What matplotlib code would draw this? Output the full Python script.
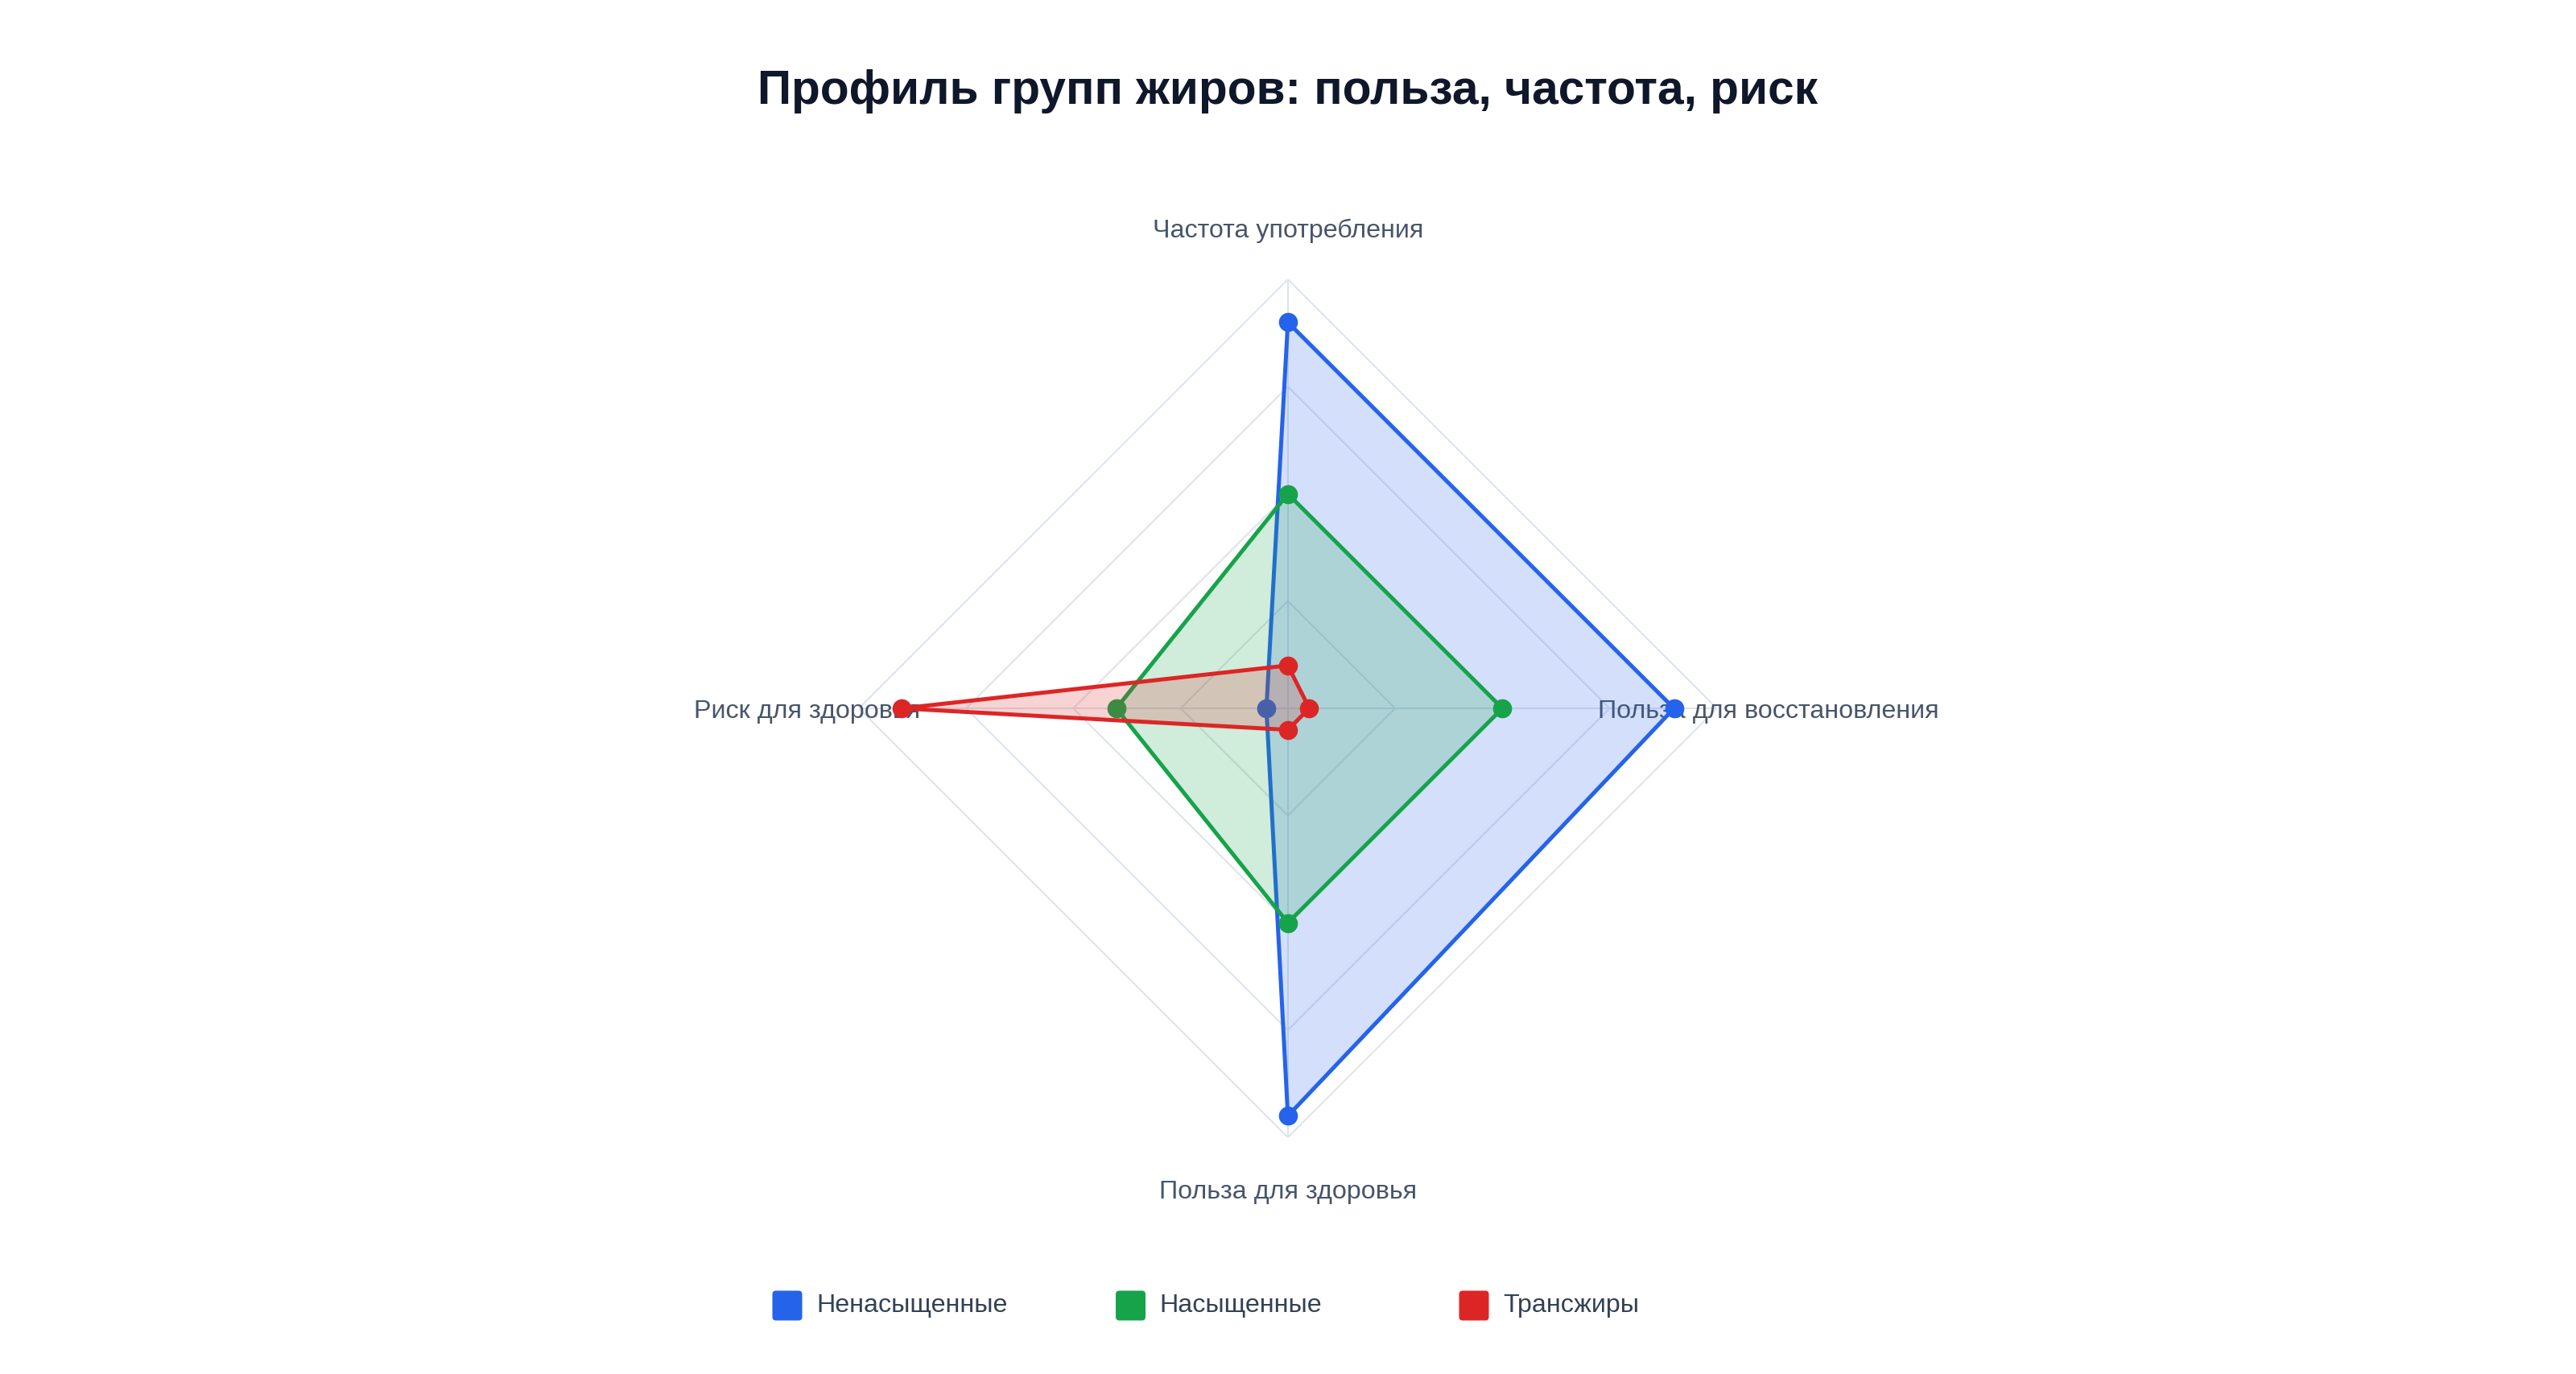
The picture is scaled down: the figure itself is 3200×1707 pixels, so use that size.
import numpy as np
import matplotlib
matplotlib.use("Agg")
import matplotlib.pyplot as plt
from matplotlib.patches import FancyBboxPatch
from matplotlib.transforms import offset_copy

plt.rcParams['font.family'] = ['Liberation Sans', 'DejaVu Sans']

# ---- data ----
title = "Профиль групп жиров: польза, частота, риск"
categories = ["Частота употребления", "Польза для восстановления",
              "Польза для здоровья", "Риск для здоровья"]
series_names = ["Ненасыщенные", "Насыщенные", "Трансжиры"]
unsaturated = [9, 9, 9.5, 0.5]
saturated = [5, 5, 5, 4]
trans_fats = [1, 0.5, 0.5, 9]
radial_ticks = [2.5, 5, 7.5, 10]
r_max = 10

colors = ["#2563eb", "#16a34a", "#dc2626"]
series = [unsaturated, saturated, trans_fats]

DPI = 200
fig = plt.figure(figsize=(16, 8.535), dpi=DPI)
fig.patch.set_facecolor("white")

ax = fig.add_axes([0.3334, 0.1722, 0.3331, 0.6245], projection="polar")
ax.set_theta_zero_location("N")
ax.set_theta_direction(-1)
ax.set_ylim(0, r_max)
ax.grid(False)
ax.spines["polar"].set_visible(False)
ax.set_xticks([])
ax.set_yticks([])
ax.set_facecolor("none")

n = len(categories)
angles = np.arange(n) * 2 * np.pi / n
closed = np.append(angles, angles[0])

grid_color = "#dfe4ec"
for t in radial_ticks:
    ax.plot(closed, [t] * (n + 1), color=grid_color, lw=0.75, zorder=1)
for a in angles:
    ax.plot([a, a], [0, r_max], color=grid_color, lw=0.75, zorder=1)

lab_trans = offset_copy(ax.transData, fig=fig, x=0, y=-1.5, units="points")
for a, lab in zip(angles, categories):
    ax.text(a, 11.2, lab, ha="center", va="center", fontsize=11.6,
            color="#475569", zorder=1.5, clip_on=False, transform=lab_trans)

z = 2
for vals, col, name in zip(series, colors, series_names):
    v = np.append(vals, vals[0])
    ax.fill(closed, v, color=col, alpha=0.2, lw=0, zorder=z)
    ax.plot(closed, v, color=col, lw=1.8, zorder=z + 1)
    ax.plot(angles, vals, 'o', color=col, ms=7.5, zorder=z + 1)
    z += 2

fig.text(0.5, 0.9335, title, ha="center", va="center", fontsize=21.1,
         fontweight="bold", color="#0f172a")

# ---- legend (horizontal, fixed-width entries) ----
leg_x0_in = 978 / DPI        # center of first swatch, inches
leg_y_in = (1707 - 1622) / DPI
leg_step_in = 426.5 / DPI
sw_in = 37 / DPI
for i, (col, nm) in enumerate(zip(colors, series_names)):
    cx = leg_x0_in + i * leg_step_in
    box = FancyBboxPatch((cx - sw_in / 2, leg_y_in - sw_in / 2), sw_in, sw_in,
                         boxstyle=f"round,pad=0,rounding_size={sw_in*0.12}",
                         facecolor=col, edgecolor="none",
                         transform=fig.dpi_scale_trans)
    fig.add_artist(box)
    fig.text(cx + 36 / DPI, leg_y_in, nm, transform=fig.dpi_scale_trans,
             ha="left", va="center", fontsize=11.6, color="#334155")

fig.savefig("out.png", dpi=DPI, facecolor="white")
